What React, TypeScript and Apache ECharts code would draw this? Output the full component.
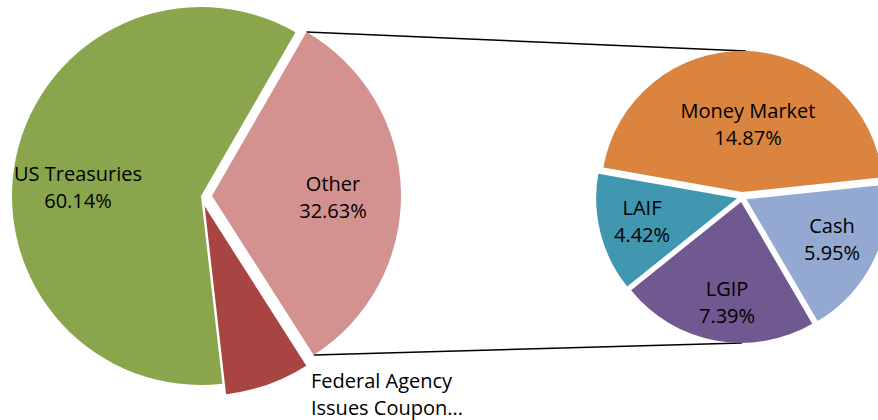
import React, { useEffect, useRef } from "react";
import * as echarts from "echarts";

// ---- data (percent of portfolio) ----
const mainNames = ["Other", "Federal Agency Issues Coupon...", "US Treasuries"];
const mainValues = [32.63, 7.23, 60.14];
const mainColors = ["#D39290", "#A84542", "#8AA64D"];

const otherNames = ["Money Market", "Cash", "LGIP", "LAIF"];
const otherValues = [14.87, 5.95, 7.39, 4.42];
const otherColors = ["#DA843F", "#93A9D1", "#705891", "#4097AF"];

// ---- layout ----
const L = { cx: 201, cy: 196, r: 189, start: 60, offset: 11 };
const R = { cx: 742, cy: 197, r: 141, start: 170, offset: 5 };

const mainLabelPos: Record<string, [number, number]> = {
  "US Treasuries": [78, 187],
  Other: [333, 197],
  "Federal Agency Issues Coupon...": [387, 394],
};
const otherLabelPos: Record<string, [number, number]> = {
  "Money Market": [748, 124],
  LAIF: [642, 221],
  Cash: [832, 239],
  LGIP: [727, 302],
};

const FONT = "'Open Sans', 'Noto Sans', sans-serif";

function pt(cx: number, cy: number, r: number, thetaFromTop: number): [number, number] {
  const a = (thetaFromTop * Math.PI) / 180;
  return [cx + r * Math.sin(a), cy - r * Math.cos(a)];
}

function midAngles(values: number[], start: number): number[] {
  const total = values.reduce((a, b) => a + b, 0);
  let t = 90 - start;
  return values.map((v) => {
    const span = (v / total) * 360;
    const m = t + span / 2;
    t += span;
    return m;
  });
}

export default function App() {
  const ref = useRef<HTMLDivElement>(null);
  useEffect(() => {
    if (!ref.current) return;
    const chart = echarts.init(ref.current, undefined, { renderer: "svg" });

    const total = mainValues.reduce((a, b) => a + b, 0);
    // "Other" slice geometry (clockwise from 12 o'clock)
    const t0 = 90 - L.start;
    const span = (mainValues[0] / total) * 360;
    const mid = t0 + span / 2;
    const [ocx, ocy] = pt(L.cx, L.cy, L.offset, mid);
    const [sx1, sy1] = pt(ocx, ocy, L.r, t0);
    const [sx2, sy2] = pt(ocx, ocy, L.r, t0 + span);
    const rightTop = [R.cx + 4, R.cy - R.r - R.offset];
    const rightBottom = [R.cx, R.cy + R.r + R.offset];

    const mainMids = midAngles(mainValues, L.start);
    const otherMids = midAngles(otherValues, R.start);

    const place = (target: [number, number], rect: any, selOff: number, midA: number) => {
      const [ox, oy] = pt(0, 0, selOff, midA);
      return {
        dx: target[0] - ox - (rect.x + rect.width / 2),
        dy: target[1] - oy - (rect.y + rect.height / 2),
      };
    };

    const labelBase = {
      show: true,
      position: "inside" as const,
      fontSize: 20,
      lineHeight: 27,
      fontFamily: FONT,
      color: "#000",
      align: "center" as const,
    };

    chart.setOption({
      animation: false,
      graphic: [
        {
          type: "line",
          shape: { x1: sx1, y1: sy1, x2: rightTop[0], y2: rightTop[1] },
          style: { stroke: "#000", lineWidth: 1.5 },
          z: 0,
        },
        {
          type: "line",
          shape: { x1: sx2, y1: sy2, x2: rightBottom[0], y2: rightBottom[1] },
          style: { stroke: "#000", lineWidth: 1.5 },
          z: 0,
        },
      ],
      series: [
        {
          type: "pie",
          center: [L.cx, L.cy],
          radius: L.r,
          startAngle: L.start,
          clockwise: true,
          selectedMode: "multiple",
          selectedOffset: L.offset,
          avoidLabelOverlap: false,
          emphasis: { disabled: true },
          silent: true,
          label: {
            ...labelBase,
            formatter: (p: any) =>
              p.dataIndex === 1
                ? "Federal Agency\nIssues Coupon..."
                : `${p.name}\n${p.value.toFixed(2)}%`,
          },
          labelLine: { show: false },
          labelLayout: (p: any) =>
            place(
              mainLabelPos[mainNames[p.dataIndex]],
              p.labelRect,
              p.dataIndex < 2 ? L.offset : 0,
              mainMids[p.dataIndex]
            ),
          data: mainNames.map((n, i) => ({
            name: n,
            value: mainValues[i],
            selected: i < 2,
            itemStyle: { color: mainColors[i] },
            label: i === 1 ? { position: "outside" } : undefined,
          })),
        },
        {
          type: "pie",
          center: [R.cx, R.cy],
          radius: R.r,
          startAngle: R.start,
          clockwise: true,
          selectedMode: "multiple",
          selectedOffset: R.offset,
          avoidLabelOverlap: false,
          emphasis: { disabled: true },
          silent: true,
          label: {
            ...labelBase,
            formatter: (p: any) => `${p.name}\n${p.value.toFixed(2)}%`,
          },
          labelLine: { show: false },
          labelLayout: (p: any) =>
            place(otherLabelPos[otherNames[p.dataIndex]], p.labelRect, R.offset, otherMids[p.dataIndex]),
          data: otherNames.map((n, i) => ({
            name: n,
            value: otherValues[i],
            selected: true,
            itemStyle: { color: otherColors[i] },
          })),
        },
      ],
    });
    return () => chart.dispose();
  }, []);

  return (
    <div
      ref={ref}
      style={{ position: "absolute", left: 0, top: 0, width: 878, height: 420, background: "#fff" }}
    />
  );
}
